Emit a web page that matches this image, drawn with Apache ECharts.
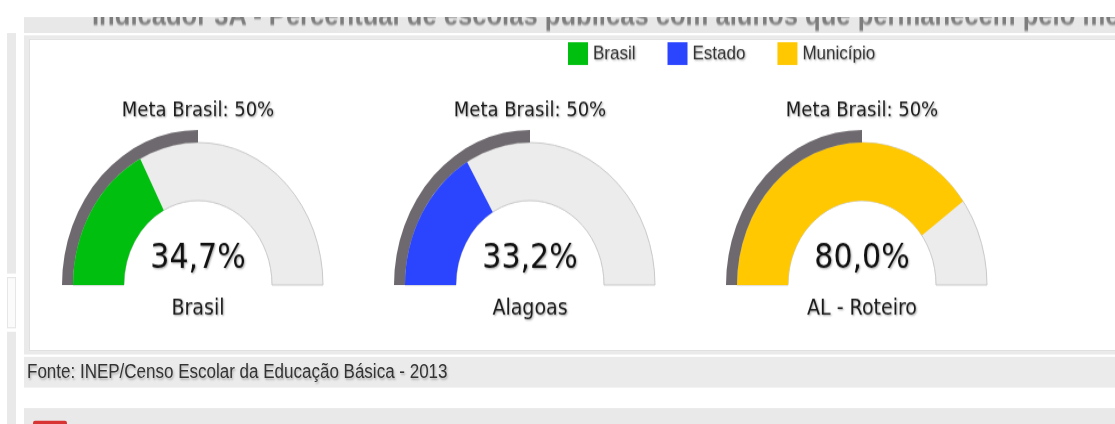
<!DOCTYPE html>
<html>
<head>
<meta charset="utf-8">
<title>Indicador 3A</title>
<script src="https://cdn.jsdelivr.net/npm/echarts@6/dist/echarts.min.js"></script>
<style>
  html, body { margin: 0; padding: 0; background: #fff; overflow: hidden; }
  /* the screenshot is stretched vertically, so the whole page is laid out flat and scaled */
  #page { position: absolute; left: 0; top: 0; width: 1115px; height: 372px;
          transform: scaleY(1.14); transform-origin: 0 0; }
  .box { position: absolute; }
  #strip1 { left: 7px; top: 29px; width: 9px; height: 211px; background: #e9e9e9; }
  #strip2 { left: 7px; top: 243px; width: 7px; height: 43px; border: 1px solid #e6e6e6; background: #fbfbfb; }
  #strip3 { left: 7px; top: 291px; width: 9px; height: 81px; background: #e9e9e9; }
  #titleBar { left: 24px; top: 15px; width: 1091px; height: 14px; background: #e8e8e8; overflow: hidden; }
  #titleBar span { position: absolute; left: 68px; top: -14px; white-space: nowrap;
                   font: bold 25.6px/25px "Liberation Sans", Arial, sans-serif; color: #7d7d7d; filter: blur(0.7px); }
  #panel { left: 24px; top: 31px; width: 1091px; height: 280px; background: #eaeaea; }
  #panelInner { left: 5px; top: 3px; width: 1090px; height: 272px; background: #fff; border: 1px solid #e0e0e0; }
  #footer { left: 24px; top: 313px; width: 1091px; height: 27px; background: #ebebeb;
            font: 17px/27px "Liberation Sans", Arial, sans-serif; color: #333; text-indent: 3px;
            text-shadow: 1px 1px 2px rgba(0,0,0,0.25); }
  #bottom { left: 24px; top: 358px; width: 1091px; height: 14px; background: #e9e9e9; }
  #icon { left: 9px; top: 11px; width: 34px; height: 6px; background: #d83434; border-radius: 2px 2px 0 0; }
  #chart { position: absolute; left: 0; top: 0; width: 1115px; height: 372px; }
</style>
</head>
<body>
<div id="page">
  <div class="box" id="strip1"></div>
  <div class="box" id="strip2"></div>
  <div class="box" id="strip3"></div>
  <div class="box" id="titleBar"><span>Indicador 3A - Percentual de escolas públicas com alunos que permanecem pelo menos 7h em atividades escolares</span></div>
  <div class="box" id="panel"><div class="box" id="panelInner"></div></div>
  <div class="box" id="footer">Fonte: INEP/Censo Escolar da Educação Básica - 2013</div>
  <div class="box" id="bottom"><div class="box" id="icon"></div></div>
  <div id="chart"></div>
</div>
<script>
// dados
const legendas = ['Brasil', 'Estado', 'Município']
const lugares = ['Brasil', 'Alagoas', 'AL - Roteiro']
const valores = [34.7, 33.2, 80.0]
const metaBrasil = 50
const cores = ['#00bf0f', '#2b45ff', '#ffc800']

const centrosX = [198, 530, 862]
const baseY = 250
const raio = 125
const raioInterno = 74
const larguraMeta = 11

const fonte = '"DejaVu Sans", Verdana, sans-serif'
const sombra = {
  textShadowColor: 'rgba(0,0,0,0.35)',
  textShadowBlur: 2,
  textShadowOffsetX: 1,
  textShadowOffsetY: 1
}

function base(cx, r) {
  return {
    type: 'gauge',
    center: [cx, baseY],
    radius: r,
    startAngle: 180,
    endAngle: 0,
    min: 0,
    max: 100,
    axisLine: { show: false },
    splitLine: { show: false },
    axisTick: { show: false },
    axisLabel: { show: false },
    pointer: { show: false },
    anchor: { show: false },
    title: { show: false },
    detail: { show: false }
  }
}

const series = []
for (let i = 0; i < lugares.length; i++) {
  const cx = centrosX[i]
  // fundo cinza claro
  series.push(Object.assign(base(cx, raio), {
    name: 'fundo' + i,
    progress: { show: true, width: raio - raioInterno },
    itemStyle: { color: '#ececec', borderColor: '#c8c8c8', borderWidth: 1 },
    data: [{ value: 100 }]
  }))
  // valor
  series.push(Object.assign(base(cx, raio), {
    name: legendas[i],
    progress: { show: true, width: raio - raioInterno },
    itemStyle: { color: cores[i] },
    title: {
      show: true,
      offsetCenter: [0, 21],
      fontFamily: fonte,
      fontSize: 19,
      color: '#1a1a1a',
      ...sombra
    },
    detail: {
      show: true,
      offsetCenter: [0, -23],
      fontFamily: fonte,
      fontSize: 30,
      fontWeight: 'normal',
      color: '#111',
      ...sombra,
      formatter: function(v) {
        return v.toFixed(1).replace('.', ',') + '%'
      }
    },
    data: [{ value: valores[i], name: lugares[i] }]
  }))
  // meta
  series.push(Object.assign(base(cx, raio + larguraMeta), {
    name: 'meta' + i,
    progress: { show: true, width: larguraMeta },
    itemStyle: { color: '#6e696e' },
    detail: {
      show: true,
      offsetCenter: [0, -153],
      fontFamily: fonte,
      fontSize: 18,
      fontWeight: 'normal',
      color: '#1a1a1a',
      ...sombra,
      formatter: function(v) {
        return 'Meta Brasil: ' + v + '%'
      }
    },
    data: [{ value: metaBrasil }]
  }))
}

const chart = echarts.init(document.getElementById('chart'), null, { renderer: 'canvas' })
chart.setOption({
  backgroundColor: 'transparent',
  animation: false,
  legend: {
    data: legendas,
    left: 563,
    top: 32,
    icon: 'rect',
    itemWidth: 20,
    itemHeight: 20,
    itemGap: 32,
    textStyle: {
      fontFamily: '"Liberation Sans", Arial, sans-serif',
      fontSize: 17,
      color: '#333',
      ...sombra
    }
  },
  series: series
})
</script>
</body>
</html>
